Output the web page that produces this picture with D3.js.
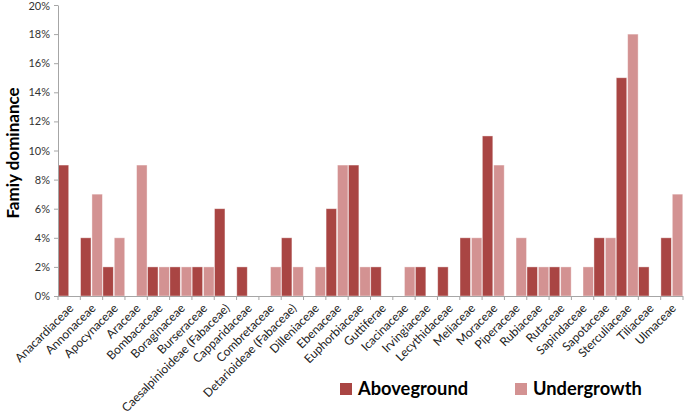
<!DOCTYPE html>
<html><head><meta charset="utf-8">
<script src="https://cdn.jsdelivr.net/npm/d3@7"></script>
<style>body{margin:0;background:#fff}svg{display:block}</style>
</head><body><svg id="c" width="685" height="416"></svg>
<script>
const categories = ["Anacardiaceae","Annonaceae","Apocynaceae","Araceae","Bombacaceae","Boraginaceae","Burseraceae","Caesalpinioideae (Fabaceae)","Capparidaceae","Combretaceae","Detarioideae (Fabaceae)","Dilleniaceae","Ebenaceae","Euphorbiaceae","Guttiferae","Icacinaceae","Irvingiaceae","Lecythidaceae","Meliaceae","Moraceae","Piperaceae","Rubiaceae","Rutaceae","Sapindaceae","Sapotaceae","Sterculiaceae","Tiliaceae","Ulmaceae"];
const aboveground = [9,4,2,0,2,2,2,6,2,0,4,0,6,9,2,0,2,2,4,11,0,2,2,0,4,15,2,4];
const undergrowth = [0,7,4,9,2,2,2,0,0,2,2,2,9,2,0,2,0,0,4,9,4,2,2,2,4,18,0,7];
const yTicks = [0,2,4,6,8,10,12,14,16,18,20];
const seriesNames = ["Aboveground","Undergrowth"];
const colors = ["#a94543","#d39292"];

const svg = d3.select("#c");
const x0 = d3.scaleBand().domain(categories).range([58, 683]).paddingInner(0).paddingOuter(0);
const x1 = d3.scaleBand().domain(seriesNames).range([0, x0.bandwidth()]).paddingInner(0.08).paddingOuter(0.02);
const y = d3.scaleLinear().domain([0, 20]).range([296, 5]);
const font = "Lato, 'Open Sans', sans-serif";

// bars
const data = categories.map((c, i) => ({c, vals: [aboveground[i], undergrowth[i]]}));
const g = svg.append("g");
data.forEach(d => {
  d.vals.forEach((v, k) => {
    if (v <= 0) return;
    g.append("rect")
      .attr("x", x0(d.c) + x1(seriesNames[k]))
      .attr("y", y(v))
      .attr("width", x1.bandwidth())
      .attr("height", y(0) - y(v))
      .attr("fill", colors[k])
      .attr("stroke", "#fff").attr("stroke-opacity", 0.5).attr("stroke-width", 0.8);
  });
});

// y axis
const yAxis = d3.axisLeft(y).tickValues(yTicks).tickFormat(d => d + "%").tickSize(4).tickSizeOuter(0);
const ya = svg.append("g").attr("transform", "translate(58,0)").call(yAxis);
ya.select(".domain").attr("stroke", "#a6a6a6");
ya.selectAll(".tick line").attr("stroke", "#a6a6a6");
ya.selectAll(".tick text").attr("font-family", font).attr("font-size", 11).attr("fill", "#333").attr("x", -8)
  .attr("dy", d => d === 20 ? "0.42em" : "0.32em");

// x axis (ticks at category boundaries)
const bounds = categories.map(c => x0(c)).concat([x0.range()[1]]);
const xa = svg.append("g");
xa.append("line").attr("x1", 58).attr("x2", 683).attr("y1", y(0) + 0.5).attr("y2", y(0) + 0.5).attr("stroke", "#a6a6a6");
xa.selectAll("line.t").data(bounds).join("line").attr("class","t")
  .attr("x1", d => d).attr("x2", d => d).attr("y1", y(0)).attr("y2", y(0) + 4).attr("stroke", "#a6a6a6");
xa.selectAll("text").data(categories).join("text")
  .attr("transform", d => `translate(${x0(d) + x0.bandwidth()/2 + 5},${y(0) + 13}) rotate(-45)`)
  .attr("text-anchor", "end")
  .attr("font-family", font).attr("font-size", 12).attr("fill", "#222")
  .text(d => d);

// y title
svg.append("text")
  .attr("transform", "translate(19,153) rotate(-90)")
  .attr("text-anchor", "middle")
  .attr("font-family", font).attr("font-weight", "bold").attr("font-size", 17).attr("fill", "#000")
  .text("Famiy dominance");

// legend
const lg = svg.append("g");
const lx = [340, 515];
seriesNames.forEach((s, k) => {
  lg.append("rect").attr("x", lx[k]).attr("y", 383).attr("width", 12).attr("height", 12).attr("fill", colors[k]);
  lg.append("text").attr("x", lx[k] + 18).attr("y", 395)
    .attr("font-family", font).attr("font-weight", "bold").attr("font-size", 18.3).attr("fill", "#000")
    .text(s);
});
</script></body></html>
